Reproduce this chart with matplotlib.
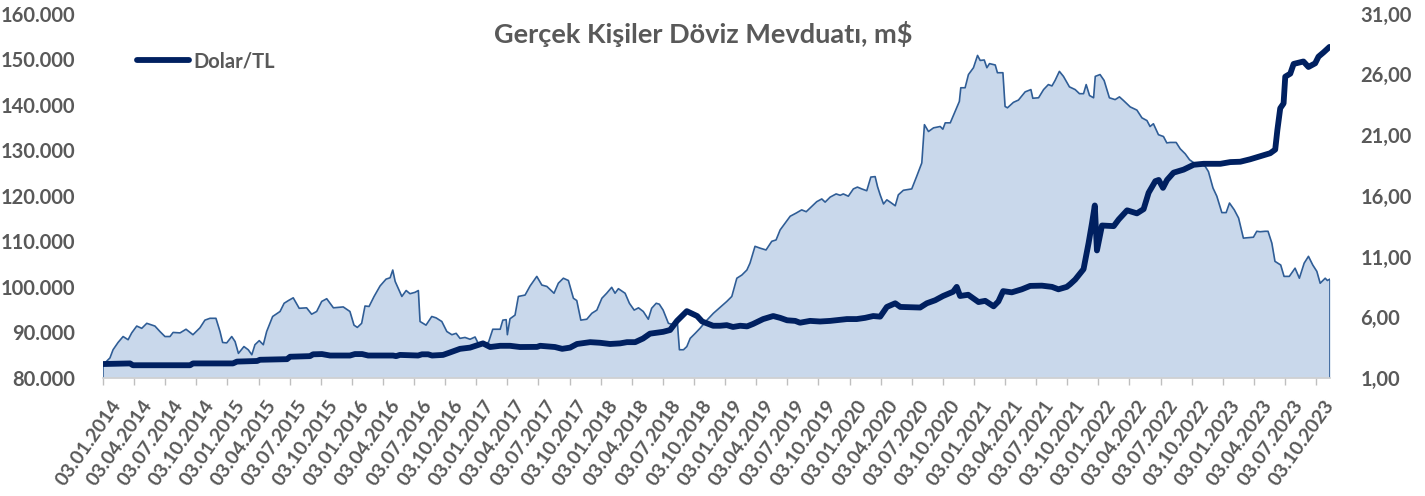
import matplotlib
matplotlib.use("Agg")
import matplotlib.pyplot as plt
from matplotlib.ticker import FuncFormatter, FixedLocator
from matplotlib.transforms import ScaledTranslation
import numpy as np

# haftalık kategori sırası (0 = 03.01.2014), Excel'deki gibi her 13 haftada bir etiket
dep_week = [0, 2.9, 4.2, 6.3, 8.4, 10.5, 12, 14.1, 16.2, 18.3, 21.7, 23.8, 25.9, 28, 29.3,
            32.2, 34.7, 37.6, 40.5, 42.6, 44.7, 47.2, 48.9, 50, 51.7, 53.8, 55.2, 56.6, 58.9,
            60.7, 62.2, 63.5, 65.3, 67, 68.4, 70.9, 74, 75.7, 77.5, 79.5, 82, 85.1, 87.2, 89.3,
            91.4, 93.5, 96.3, 100.4, 103.2, 104.9, 106.3, 108.1, 109.5, 111.2, 113.3, 115.8,
            118.3, 120, 121.1, 122.1, 124.9, 126.7, 128.3, 130.4, 131.8, 132.5, 135, 137.4,
            139.2, 141.6, 143.7, 145.8, 147.6, 149.2, 151.3, 153.4, 155.5, 156.9, 159, 161.1,
            162.9, 166, 167.1, 168.5, 169, 170.1, 172.2, 173.6, 176.4, 178.5, 181.3, 183.4,
            185.5, 188.5, 190.3, 192.4, 194.5, 196.6, 198, 199.7, 202.2, 204.3, 206.4, 208.5,
            210.5, 212.6, 214, 215.4, 218.2, 220, 222, 223.8, 225.8, 227.9, 229.3, 231.2,
            232.5, 234.1, 236.3, 237.7, 240.1, 240.9, 242.6, 244, 245.4, 247.5, 249.5, 252.4,
            255.1, 257.9, 260.7, 262.8, 264.9, 267, 269.1, 270.4, 272.5, 274.6, 277.1, 279.5,
            281.3, 283, 285.1, 287.2, 289.7, 292, 293.9, 295.5, 298.3, 300.4, 301.8, 303.9,
            306.4, 308.1, 309.4, 311.5, 313.6, 315.3, 317.1, 319.2, 320.9, 322.7, 323.7, 324.8,
            326.2, 327.6, 329, 331.1, 332.4, 334.5, 338, 340.1, 342.2, 343.3, 345, 347.1,
            349.9, 351, 352, 354.1, 356.1, 357.9, 358.5, 360.3, 361.7, 363.8, 365.5, 366.6,
            368.3, 369.4, 370.5, 372.9, 373.8, 376.1, 377, 378, 380.5, 382.6, 385.4, 387.8,
            388.6, 391, 393.1, 395.1, 396.6, 397.9, 399.7, 401.4, 403.9, 406.3, 408.1, 409.8,
            410.9, 412.3, 414, 414.7, 416.7, 418.4, 420.6, 423, 424.8, 426.5, 429.3, 432.1,
            434.2, 436.3, 437.6, 439, 441.1, 443.2, 444.6, 446, 448.5, 450.2, 452.3, 454.1,
            456.5, 457.9, 460.7, 462, 463.9, 465.5, 467.6, 469.4, 470.8, 472.8, 474.6, 476.6,
            478.7, 480.8, 482.2, 483.6, 485.7, 486.9, 488.5, 489.8, 492.2, 493.6, 495.8, 498.2,
            500, 502, 503.8, 505.6, 507.3, 508.7, 510.8, 511.7, 512.8]
dep_val = [82.9, 84.4, 86.2, 87.8, 89.1, 88.4, 89.9, 91.4, 90.9, 92.0, 91.4, 90.2, 89.1, 89.1, 90.0,
           89.9, 90.7, 89.5, 91.0, 92.7, 93.1, 93.1, 90.2, 87.8, 87.7, 89.1, 88.0, 85.4, 86.9,
           86.2, 85.1, 87.3, 88.2, 87.3, 90.2, 93.5, 94.6, 96.4, 97.0, 97.6, 95.3, 95.4, 94.0, 94.6,
           96.8, 97.4, 95.4, 95.6, 94.6, 91.6, 91.1, 92.0, 95.8, 95.7, 97.9, 100.2,
           101.7, 102.0, 103.7, 101.2, 97.9, 99.2, 98.5, 98.8, 99.2, 92.4, 91.6, 93.5,
           93.2, 92.4, 90.2, 89.5, 89.8, 88.7, 88.9, 88.5, 89.0, 87.5, 87.6, 87.8,
           90.7, 90.7, 92.7, 92.8, 89.5, 93.0, 93.8, 97.9, 98.2, 100.2, 102.3, 100.4,
           100.1, 98.6, 100.8, 101.9, 101.4, 97.5, 97.0, 92.7, 92.9, 94.2, 94.9, 97.5,
           98.6, 99.9, 98.6, 99.6, 98.6, 96.4, 94.9, 95.4, 94.6, 92.9, 95.3, 96.4,
           96.2, 94.9, 92.0, 91.8, 91.8, 86.2, 86.2, 86.9, 88.7, 89.8, 90.9, 92.7,
           94.2, 95.5, 96.8, 97.9, 101.9, 102.6, 103.7, 105.2, 108.9, 108.5, 108.1, 110.0,
           110.3, 112.5, 114.0, 115.5, 116.2, 116.9, 116.5, 117.3, 118.7, 119.3, 118.6, 119.7,
           120.4, 120.1, 120.4, 119.9, 121.5, 121.9, 121.5, 121.1, 124.1, 124.2, 122.0, 120.2,
           118.2, 119.1, 118.6, 117.8, 120.2, 121.2, 121.5, 124.3, 127.2, 135.6, 134.1, 134.9,
           135.2, 134.6, 136.0, 136.0, 138.5, 140.7, 143.7, 143.7, 146.6, 148.1, 150.8, 149.7,
           149.8, 148.1, 149.0, 148.7, 147.0, 147.0, 139.6, 139.3, 140.5, 141.0, 142.8, 143.3,
           141.4, 141.5, 143.3, 144.4, 144.1, 145.3, 147.3, 146.2, 143.9, 143.3, 142.4, 142.4,
           144.4, 142.0, 141.5, 146.2, 146.6, 145.3, 141.5, 141.1, 141.7, 140.9, 139.5, 138.8,
           137.1, 136.5, 135.2, 135.8, 133.4, 133.0, 131.6, 131.7, 131.7, 130.3, 129.2, 127.9,
           127.0, 127.2, 126.4, 125.3, 121.7, 119.9, 116.3, 116.3, 118.4, 116.9, 115.1, 110.7,
           110.8, 110.9, 112.2, 112.1, 112.2, 112.2, 109.6, 105.6, 104.8, 102.3, 102.3, 104.1,
           101.9, 105.2, 106.7, 104.8, 103.4, 100.8, 101.9, 101.4, 101.7]

usd_week = [0, 11.3, 12.5, 36.4, 37.6, 54.3, 56, 64.4, 65.6, 76.9, 78.2, 86.5, 87.8, 91.5, 94.9,
            103.2, 105.3, 108.3, 110.8, 121.2, 122.5, 124.1, 131.7, 133.3, 135.9, 137.5, 142.1,
            145, 149.2, 153.4, 158.8, 161.8, 166, 170.1, 174.3, 181.4, 182.7, 188.9, 191.9,
            195.2, 198.1, 203.6, 207.7, 211.9, 216.1, 219, 222.4, 225.7, 228.6, 234.1, 237,
            239.9, 244, 248.3, 250.4, 255, 257.9, 260.7, 263.3, 266.3, 269.2, 271.7, 275.9,
            280.1, 283, 285.9, 289.3, 291.3, 295.5, 299.7, 303.9, 310.9, 315, 318.5, 321.9,
            324.8, 327.6, 331.1, 333.2, 341.5, 344.3, 347.8, 351.1, 355.3, 356.8, 358.2, 361.6,
            365.9, 368.7, 372.2, 374.2, 376.2, 379.8, 384, 387.5, 392.4, 396.6, 399.3, 402.8,
            404.2, 406.3, 409.8, 411.9, 413.3, 414.5, 415.4, 417.5, 422.4, 424.5, 428, 432.1,
            434.9, 437, 439.8, 441.2, 443, 444.7, 447.4, 451.6, 455.8, 460, 467, 471.1, 475.3,
            479.4, 483.6, 487.8, 489.9, 490.8, 492, 493.4, 494.1, 496.2, 497.6, 501.7, 503.8,
            506.6, 508, 510.1, 512.6]
usd_val = [2.15, 2.2, 2.05, 2.05, 2.2, 2.2, 2.35, 2.4, 2.5, 2.55, 2.75, 2.8, 2.95, 2.97, 2.85,
           2.85, 2.97, 2.97, 2.85, 2.85, 2.8, 2.9, 2.85, 2.95, 2.95, 2.85, 2.9,
           3.1, 3.4, 3.5, 3.85, 3.55, 3.65, 3.65, 3.55, 3.56, 3.65, 3.55, 3.4,
           3.5, 3.8, 3.95, 3.9, 3.8, 3.85, 3.95, 3.95, 4.25, 4.65, 4.8, 4.95,
           5.7, 6.5, 6.1, 5.65, 5.3, 5.3, 5.35, 5.2, 5.3, 5.25, 5.45, 5.85,
           6.1, 5.95, 5.75, 5.7, 5.55, 5.7, 5.65, 5.7, 5.85, 5.85, 5.95, 6.1,
           6.05, 6.85, 7.15, 6.85, 6.8, 7.15, 7.4, 7.75, 8.1, 8.5, 7.75, 7.85,
           7.25, 7.35, 6.9, 7.3, 8.15, 8.05, 8.3, 8.58, 8.6, 8.5, 8.3, 8.5,
           8.72, 9.1, 9.96, 12.1, 13.7, 15.2, 11.5, 13.55, 13.5, 14.05, 14.8, 14.55,
           14.9, 16.25, 17.2, 17.3, 16.65, 17.3, 17.9, 18.15, 18.55, 18.63, 18.63, 18.77, 18.8,
           19.0, 19.25, 19.5, 19.8, 21.4, 23.2, 23.6, 25.8, 26.05, 26.85, 27.05, 26.6,
           26.9, 27.45, 27.8, 28.25]

tick_weeks = list(range(0, 508, 13))
tick_labels = [f"03.{m:02d}.{y}" for y in range(2014, 2024) for m in (1, 4, 7, 10)]

gray = '#595959'
plt.rcParams['font.family'] = ['Lato', 'DejaVu Sans']
plt.rcParams['font.weight'] = 'bold'

fig = plt.figure(figsize=(14.25, 4.96), dpi=100)
ax = fig.add_axes([103 / 1425, 1 - 378 / 496, (1330 - 103) / 1425, (378 - 13.5) / 496])

ax.fill_between(dep_week, 80, dep_val, color='#c9d8eb', lw=0)
ax.plot(dep_week, dep_val, color='#2f5d96', lw=1.2)
ax.vlines([dep_week[0], dep_week[-1]], 80, [dep_val[0], dep_val[-1]], color='#2f5d96', lw=1.2)

ax.set_xlim(0, dep_week[-1])
ax.set_ylim(80, 160)
ax.set_yticks(np.arange(80, 161, 10))
ax.yaxis.set_major_formatter(FuncFormatter(lambda v, p: f"{v * 1000:,.0f}".replace(',', '.')))

ax.xaxis.set_major_locator(FixedLocator(tick_weeks))
ax.set_xticklabels(tick_labels, rotation=55, ha='right', rotation_mode='anchor')
ax.tick_params(axis='x', colors='#bfbfbf', length=5, width=1, pad=9, labelcolor=gray, labelsize=14)
ax.tick_params(axis='y', length=0, pad=20, labelcolor=gray, labelsize=14.5)
shift = ScaledTranslation(7 / 100, 0, fig.dpi_scale_trans)
for lbl in ax.get_xticklabels():
    lbl.set_transform(lbl.get_transform() + shift)

for s in ['top', 'right', 'left']:
    ax.spines[s].set_visible(False)
ax.spines['bottom'].set_color('#d0d0d0')
ax.spines['bottom'].set_linewidth(1.2)

ax2 = ax.twinx()
line, = ax2.plot(usd_week, usd_val, color='#002060', lw=4.2, solid_capstyle='round',
                 solid_joinstyle='round', label='Dolar/TL')
ax2.set_ylim(1, 31)
ax2.set_yticks(np.arange(1, 32, 5))
ax2.yaxis.set_major_formatter(FuncFormatter(lambda v, p: f"{v:.2f}".replace('.', ',')))
ax2.tick_params(axis='y', length=0, pad=22, labelcolor=gray, labelsize=14.5)
for s in ax2.spines.values():
    s.set_visible(False)

fig.text(703 / 1425, 1 - 34 / 496, 'Gerçek Kişiler Döviz Mevduatı, m$', ha='center', va='center',
         fontsize=19.5, color=gray, fontweight='bold')

leg = fig.legend(handles=[line], loc='center left', bbox_to_anchor=(137 / 1425, 1 - 61 / 496),
                 frameon=False, borderpad=0, borderaxespad=0, handlelength=2.6, handletextpad=0.2,
                 prop={'size': 14.5, 'weight': 'bold'})
for t in leg.get_texts():
    t.set_color(gray)

fig.savefig('out.png', dpi=100)
